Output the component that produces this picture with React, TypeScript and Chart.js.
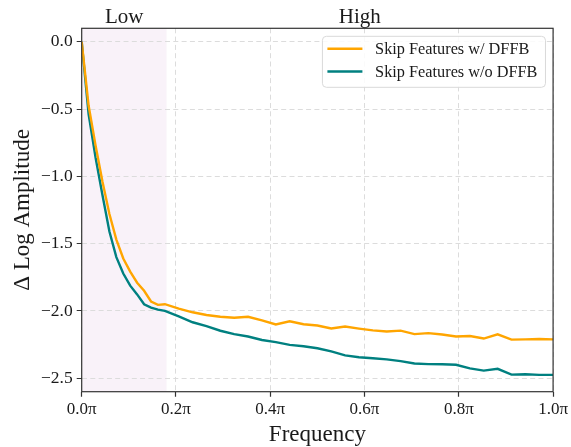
import { useEffect, useRef } from "react";
import { Chart, registerables } from "chart.js";

Chart.register(...registerables);

// Normalised frequency (in units of π)
const FREQUENCY = [
  0, 0.0147, 0.0294, 0.0441, 0.0588, 0.0735, 0.0882, 0.1029, 0.1176, 0.1324, 0.1471, 0.1618, 0.1765,
  0.2059, 0.2353, 0.2647, 0.2941, 0.3235, 0.3529, 0.3824, 0.4118, 0.4412, 0.4706, 0.5, 0.5294,
  0.5588, 0.5882, 0.6176, 0.6471, 0.6765, 0.7059, 0.7353, 0.7647, 0.7941, 0.8235, 0.8529, 0.8824,
  0.9118, 0.9412, 0.9706, 1.0,
];

const SKIP_W_DFFB = [
  0, -0.476, -0.77, -1.04, -1.28, -1.47, -1.61, -1.708, -1.79, -1.85, -1.93, -1.955, -1.95,
  -1.983, -2.01, -2.03, -2.043, -2.05, -2.043, -2.07, -2.1, -2.077, -2.099, -2.108, -2.13,
  -2.116, -2.131, -2.144, -2.153, -2.146, -2.172, -2.165, -2.175, -2.19, -2.186, -2.205, -2.174,
  -2.213, -2.211, -2.208, -2.211,
];

const SKIP_WO_DFFB = [
  0, -0.54, -0.86, -1.14, -1.41, -1.6, -1.722, -1.812, -1.877, -1.95, -1.975, -1.99, -2.0,
  -2.04, -2.084, -2.113, -2.147, -2.172, -2.19, -2.216, -2.232, -2.252, -2.262, -2.277, -2.3,
  -2.33, -2.344, -2.352, -2.36, -2.373, -2.39, -2.395, -2.396, -2.4, -2.427, -2.443, -2.43,
  -2.473, -2.47, -2.475, -2.475,
];

const SERIES_LABELS = ["Skip Features w/ DFFB", "Skip Features w/o DFFB"];
const SERIES_COLORS = ["#ffa500", "#008080"];

const X_TICKS = [0, 0.2, 0.4, 0.6, 0.8, 1.0];
const X_TICK_LABELS = ["0.0π", "0.2π", "0.4π", "0.6π", "0.8π", "1.0π"];
const Y_TICKS = [0, -0.5, -1.0, -1.5, -2.0, -2.5];
const Y_TICK_LABELS = ["0.0", "−0.5", "−1.0", "−1.5", "−2.0", "−2.5"];

const BAND_LABELS = ["Low", "High"];
const BAND_EDGES = [0, 0.18, 1.0];

const FONT = "'Liberation Serif', 'Times New Roman', serif";
const TEXT = "#1a1a1a";
const GRID = "#dcdcdc";

const bandPlugin = {
  id: "bands",
  beforeDraw(chart: any) {
    const { ctx, chartArea, scales } = chart;
    const x0 = scales.x.getPixelForValue(BAND_EDGES[0]);
    const x1 = scales.x.getPixelForValue(BAND_EDGES[1]);
    ctx.save();
    ctx.fillStyle = "rgba(128, 0, 128, 0.05)";
    ctx.fillRect(x0, chartArea.top, x1 - x0, chartArea.bottom - chartArea.top);
    ctx.restore();
  },
  afterDraw(chart: any) {
    const { ctx, chartArea, scales } = chart;
    ctx.save();
    ctx.font = `21px ${FONT}`;
    ctx.fillStyle = TEXT;
    ctx.textAlign = "center";
    ctx.textBaseline = "alphabetic";
    for (let i = 0; i < BAND_LABELS.length; i++) {
      const a = scales.x.getPixelForValue(BAND_EDGES[i]);
      const b = scales.x.getPixelForValue(BAND_EDGES[i + 1]);
      ctx.fillText(BAND_LABELS[i], (a + b) / 2, chartArea.top - 5);
    }
    ctx.restore();
  },
};

const frameLegendPlugin = {
  id: "frameLegend",
  afterDatasetsDraw(chart: any) {
    const { ctx, chartArea } = chart;
    ctx.save();
    // spines
    ctx.strokeStyle = "#333";
    ctx.lineWidth = 1.2;
    ctx.strokeRect(chartArea.left, chartArea.top, chartArea.right - chartArea.left, chartArea.bottom - chartArea.top);

    // legend
    ctx.font = `16.3px ${FONT}`;
    let maxW = 0;
    for (const l of SERIES_LABELS) maxW = Math.max(maxW, ctx.measureText(l).width);
    const w = 5 + 35 + 12.7 + maxW + 8;
    const h = 51;
    const right = chartArea.right - 7.6;
    const left = right - w;
    const top = chartArea.top + 8;
    ctx.beginPath();
    (ctx as any).roundRect(left, top, w, h, 4);
    ctx.fillStyle = "rgba(255,255,255,0.85)";
    ctx.fill();
    ctx.strokeStyle = "#d9d9d9";
    ctx.lineWidth = 1;
    ctx.stroke();
    const rows = [12.5, 35.2];
    chart.data.datasets.forEach((ds: any, i: number) => {
      const y = top + rows[i];
      ctx.beginPath();
      ctx.moveTo(left + 5, y);
      ctx.lineTo(left + 40, y);
      ctx.strokeStyle = ds.borderColor;
      ctx.lineWidth = 2.4;
      ctx.stroke();
      ctx.fillStyle = TEXT;
      ctx.textAlign = "left";
      ctx.textBaseline = "middle";
      ctx.fillText(ds.label, left + 52.7, y + 1);
    });
    ctx.restore();
  },
};

export default function App() {
  const ref = useRef<HTMLCanvasElement>(null);

  useEffect(() => {
    const datasets = [SKIP_W_DFFB, SKIP_WO_DFFB].map((vals, i) => ({
      label: SERIES_LABELS[i],
      data: FREQUENCY.map((f, j) => ({ x: f, y: vals[j] })),
      borderColor: SERIES_COLORS[i],
      backgroundColor: SERIES_COLORS[i],
      borderWidth: 2.4,
      pointRadius: 0,
      tension: 0,
      fill: false,
    }));

    const gridOpts = {
      color: GRID,
      lineWidth: 1,
      drawTicks: true,
      tickLength: 5,
      tickColor: "#333",
      tickWidth: 1.2,
      tickBorderDash: [1, 0],
    };

    const chart = new Chart(ref.current as HTMLCanvasElement, {
      type: "line",
      data: { datasets },
      options: {
        animation: false,
        responsive: false,
        devicePixelRatio: 1,
        layout: { padding: { left: 0, right: 16.7, top: 28.3, bottom: 0 } },
        plugins: { legend: { display: false }, tooltip: { enabled: false } },
        scales: {
          x: {
            type: "linear",
            min: 0,
            max: 1,
            afterBuildTicks: (scale: any) => {
              scale.ticks = X_TICKS.map((v) => ({ value: v }));
            },
            afterFit: (scale: any) => {
              scale.height = 55.3;
            },
            ticks: {
              callback: (v: any) => {
                const idx = X_TICKS.findIndex((t) => Math.abs(t - Number(v)) < 1e-9);
                return idx >= 0 ? X_TICK_LABELS[idx] : "";
              },
              font: { family: FONT, size: 17 },
              color: TEXT,
              padding: 3,
              maxRotation: 0,
              autoSkip: false,
            },
            grid: gridOpts,
            border: { display: false, dash: [5, 3.3] },
            title: {
              display: true,
              text: "Frequency",
              font: { family: FONT, size: 23 },
              color: TEXT,
              padding: { top: 0, bottom: -2 },
            },
          },
          y: {
            type: "linear",
            min: -2.6,
            max: 0.1,
            afterBuildTicks: (scale: any) => {
              scale.ticks = Y_TICKS.map((v) => ({ value: v }));
            },
            afterFit: (scale: any) => {
              scale.width = 81.7;
            },
            ticks: {
              callback: (v: any) => {
                const idx = Y_TICKS.findIndex((t) => Math.abs(t - Number(v)) < 1e-9);
                return idx >= 0 ? Y_TICK_LABELS[idx] : "";
              },
              font: { family: FONT, size: 17.5 },
              color: TEXT,
              padding: 4,
              autoSkip: false,
            },
            grid: gridOpts,
            border: { display: false, dash: [5, 3.3] },
            title: {
              display: true,
              text: "Δ Log Amplitude",
              font: { family: FONT, size: 23 },
              color: TEXT,
              padding: { top: 9, bottom: 0 },
            },
          },
        },
      },
      plugins: [bandPlugin, frameLegendPlugin],
    } as any);

    return () => chart.destroy();
  }, []);

  return (
    <div style={{ position: "fixed", left: 0, top: 0, width: 571, height: 447, background: "#fff" }}>
      <canvas ref={ref} width={571} height={447} style={{ display: "block", width: 571, height: 447 }} />
    </div>
  );
}
